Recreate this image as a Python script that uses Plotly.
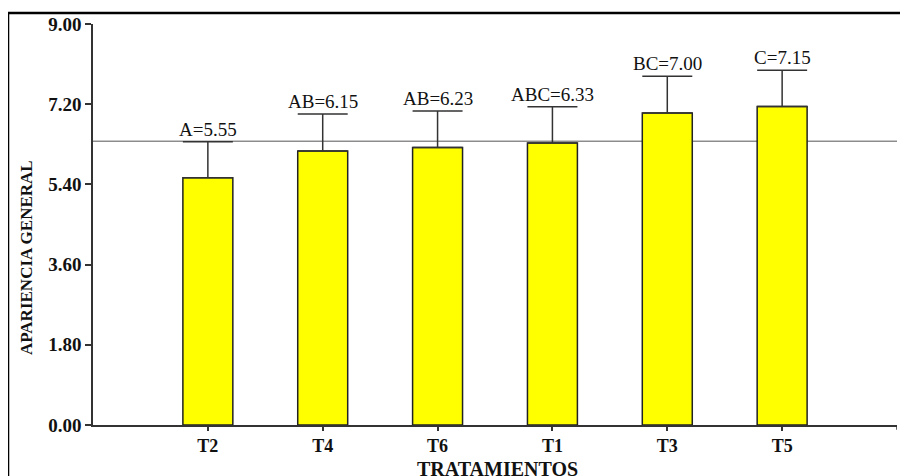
import plotly.graph_objects as go

# Data
treatments = ["T2", "T4", "T6", "T1", "T3", "T5"]
means = [5.55, 6.15, 6.23, 6.33, 7.00, 7.15]
errors = [0.81, 0.83, 0.82, 0.81, 0.83, 0.81]
groups = ["A", "AB", "AB", "ABC", "BC", "C"]
ref_value = 6.37
y_ticks = [0.0, 1.8, 3.6, 5.4, 7.2, 9.0]
y_tick_labels = ["0.00", "1.80", "3.60", "5.40", "7.20", "9.00"]

SERIF = "Liberation Serif, Times New Roman, serif"

fig = go.Figure()
fig.add_trace(go.Bar(
    x=treatments, y=means, width=0.435,
    marker=dict(color="#FFFF00", line=dict(color="#222222", width=1.5)),
    error_y=dict(type="data", symmetric=False, array=errors,
                 arrayminus=[0] * len(errors), color="#333333",
                 thickness=1.5, width=25),
    showlegend=False, hoverinfo="skip",
))

# labels above error bars
for t, m, e, g in zip(treatments, means, errors, groups):
    fig.add_annotation(x=t, y=m + e, text=f"{g}={m:.2f}", showarrow=False,
                       yanchor="bottom", yshift=0,
                       font=dict(family=SERIF, size=19, color="#111111"))

# reference line
fig.add_shape(type="line", xref="x", yref="y", x0=-1, x1=6, y0=ref_value, y1=ref_value,
              line=dict(color="#555555", width=1), layer="below")

# small end tick at right of x axis
fig.add_shape(type="line", xref="x", yref="paper", x0=6, x1=6, y0=0, y1=-0.012,
              line=dict(color="#333333", width=1.5))

# outer frame (left and top)
fig.add_shape(type="line", xref="paper", yref="paper", x0=-0.1057, x1=-0.1057,
              y0=1.0274, y1=-0.3, line=dict(color="black", width=2.5))
fig.add_shape(type="line", xref="paper", yref="paper", x0=-0.1057, x1=1.2,
              y0=1.0274, y1=1.0274, line=dict(color="black", width=2.5))

# axis titles
fig.add_annotation(xref="paper", yref="paper", x=-0.082, y=0.4165,
                   xanchor="center", yanchor="middle",
                   text="<b>APARIENCIA GENERAL</b>", textangle=-90, showarrow=False,
                   font=dict(family=SERIF, size=17, color="#111111"))
fig.add_annotation(xref="paper", yref="paper", x=0.5025, y=-0.11,
                   xanchor="center", yanchor="middle",
                   text="<b>TRATAMIENTOS</b>", showarrow=False,
                   font=dict(family=SERIF, size=20, color="#111111"))

fig.update_layout(
    width=900, height=468,
    margin=dict(l=85, r=11, t=16, b=51, autoexpand=False),
    paper_bgcolor="white", plot_bgcolor="white",
    xaxis=dict(type="category", range=[-1, 6], showgrid=False, zeroline=False,
               automargin=False,
               showline=True, linecolor="#333333", linewidth=1.5,
               ticks="outside", ticklen=4, tickcolor="#333333", tickwidth=1.5,
               tickfont=dict(family=SERIF, size=18, color="#111111"),
               tickprefix="<b>", ticksuffix="</b>"),
    yaxis=dict(range=[0, 9], tickvals=y_ticks, ticktext=[f"<b>{s}</b>" for s in y_tick_labels],
               automargin=False, showgrid=False, zeroline=False,
               showline=True, linecolor="#333333", linewidth=1.5,
               ticks="outside", ticklen=6, tickcolor="#333333", tickwidth=1.5,
               tickfont=dict(family=SERIF, size=19, color="#111111")),
)

fig.write_html("out.html")
